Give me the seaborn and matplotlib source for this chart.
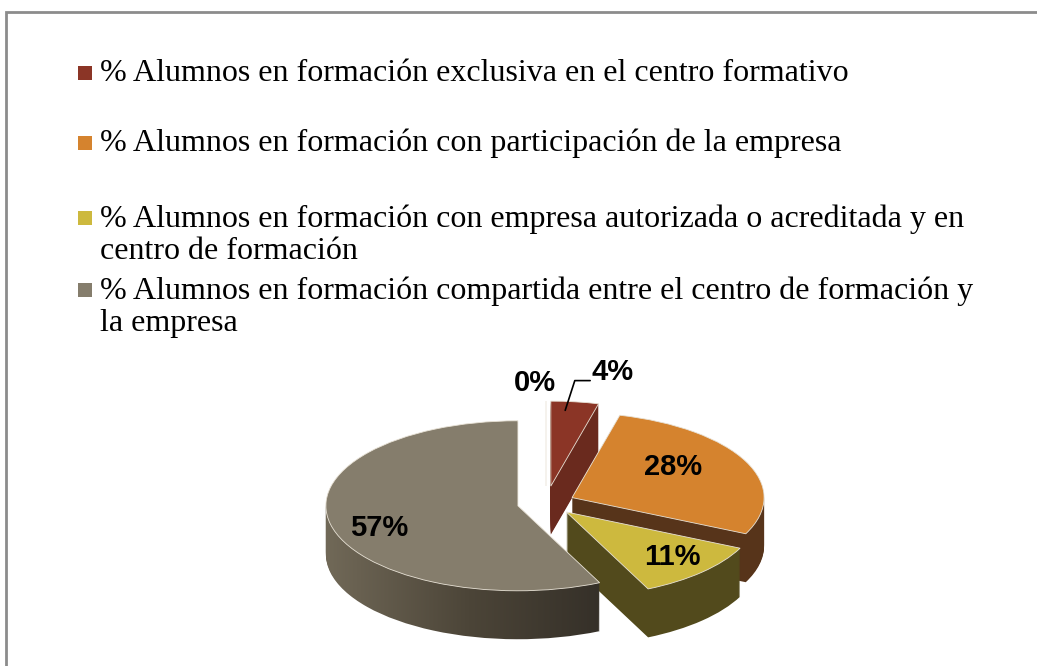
import numpy as np
import seaborn as sns
import matplotlib.pyplot as plt
from matplotlib.patches import Rectangle

# Data
legend_labels = [
    '% Alumnos en formación exclusiva en el centro formativo',
    '% Alumnos en formación con participación de la empresa',
    '% Alumnos en formación con empresa autorizada o acreditada y en\ncentro de formación',
    '% Alumnos en formación compartida entre el centro de formación y\nla empresa',
]
# first value is the empty slice shown only as "0%"
shares = [0, 4, 28, 11, 57]
pct_labels = ['0%', '4%', '28%', '11%', '57%']

# Styling
top_colors = ['#8B3526', '#8B3526', '#D5832E', '#CDB93E', '#857D6C']
side_colors = ['#6A2A1E', '#6A2A1E', '#57341A', '#524A1C', '#4F4839']
explode = [0.2, 0.2, 0.15, 0.15, 0.15]
depth = 0.57
n_layers = 48

sns.set_theme(style='white')
plt.rcParams['font.family'] = ['Liberation Serif', 'DejaVu Serif']

fig = plt.figure(figsize=(10.37, 6.66), dpi=100)
W, H = 1037, 666

# pie axes: radius 1 -> 192 px wide, 85 px tall, centre at (546, 503)
cx, cy, rx, ry = 546, 503, 192, 85
xl, yl = (-1.5, 1.5), (-2.0, 2.0)
left_px = cx + xl[0] * rx
top_px = cy - yl[1] * ry
bot_px = cy - yl[0] * ry
ax = fig.add_axes([left_px / W, (H - bot_px) / H,
                   (xl[1] - xl[0]) * rx / W, (bot_px - top_px) / H])

# horizontal shading used on the big slice's wall (light left, dark right)
shade = sns.blend_palette(['#716958', '#4c4538', '#332e27'], as_cmap=True)
grad = np.linspace(0, 1, 256).reshape(1, -1)

# side walls: stacked copies of the pie, shifted down
for k in range(n_layers):
    dy = -depth * (1 - k / n_layers)
    layer, _ = ax.pie(shares, colors=side_colors, explode=explode, startangle=90,
                      counterclock=False, center=(0, dy), radius=1,
                      wedgeprops=dict(linewidth=0))
    layer[4].set_visible(False)
    ax.imshow(grad, cmap=shade, aspect='auto', extent=(-1.15, 0.35, -2, 1),
              clip_path=layer[4], zorder=layer[4].get_zorder())
# top face
wedges, _ = ax.pie(shares, colors=top_colors, explode=explode, startangle=90,
                   counterclock=False, center=(0, 0), radius=1,
                   wedgeprops=dict(linewidth=0.6, edgecolor='#e8e2d6'))
for w in wedges:
    w.set_zorder(5)
ax.set_xlim(*xl)
ax.set_ylim(*yl)
ax.set_aspect('auto')
ax.axis('off')

# data labels along each slice's mid angle
label_r = [1.41, 1.55, 0.73, 0.93, 0.89]
label_dx = [-0.06, 0.15, 0.0, 0.0, 0.0]
label_dy = [0.0, 0.0, 0.11, 0.02, -0.10]
cum = np.cumsum([0] + shares[:-1])
for i, (s, c) in enumerate(zip(shares, cum)):
    mid = np.deg2rad((c + s / 2) / sum(shares) * 360)
    x = label_r[i] * np.sin(mid) + label_dx[i]
    y = label_r[i] * np.cos(mid) + label_dy[i]
    ax.text(x, y, pct_labels[i], ha='center', va='center', fontsize=21,
            fontweight='bold', family=['Liberation Sans', 'DejaVu Sans'],
            color='black', zorder=10)
    if i == 1:
        # leader line from the thin slice to its label
        ax.plot([0.10, 0.15, 0.23], [1.09, 1.44, 1.44], color='black',
                lw=1.2, zorder=10)

# legend, Excel style
entry_y = [73, 143, 218, 290]
for lab, col, ypx in zip(legend_labels, top_colors[1:], entry_y):
    fig.patches.append(Rectangle((78 / W, (H - ypx - 7) / H), 14 / W, 14 / H,
                                 transform=fig.transFigure, facecolor=col,
                                 edgecolor='none'))
    fig.text(100 / W, (H - ypx + 14) / H, lab, ha='left', va='top',
             fontsize=23, color='black', linespacing=1.15)

# outer chart frame
fig.patches.append(Rectangle((6 / W, -0.01), 1.02, (H - 12) / H + 0.01,
                             transform=fig.transFigure, facecolor='none',
                             edgecolor='#8c8c8c', lw=2))

plt.savefig('out.png', dpi=100)
